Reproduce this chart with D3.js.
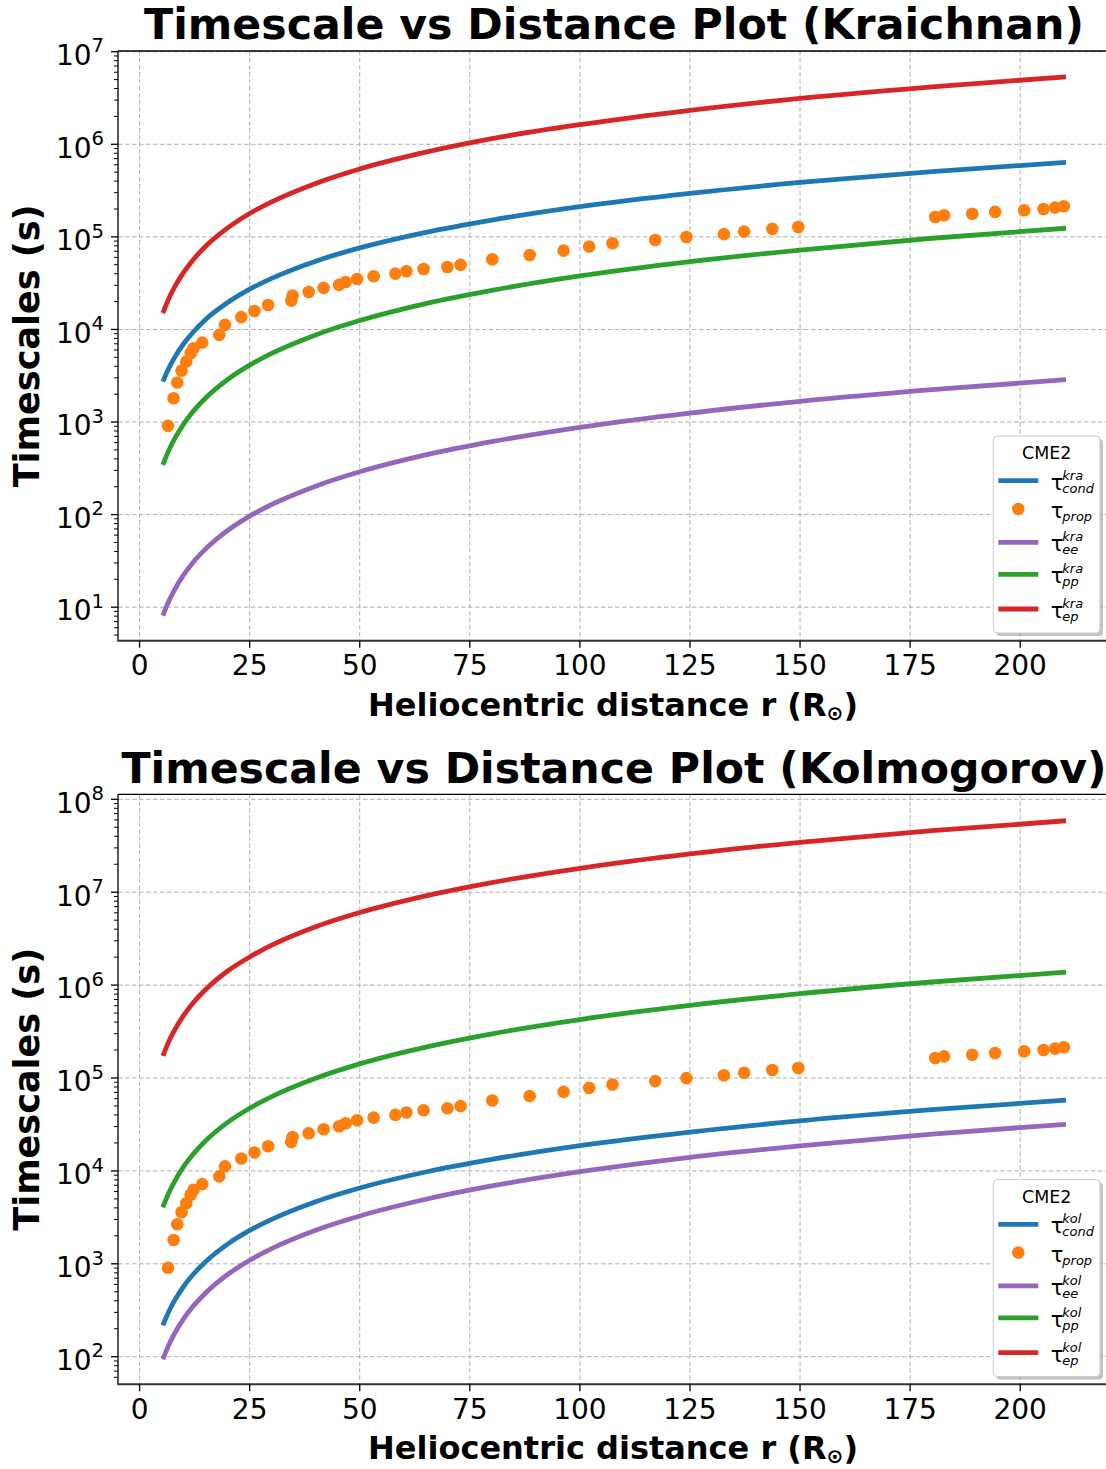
<!DOCTYPE html>
<html>
<head>
<meta charset="utf-8">
<script src="https://cdn.jsdelivr.net/npm/d3@7"></script>
<style>
  body { margin: 0; background: #fff; }
  text { font-family: "DejaVu Sans", sans-serif; }
</style>
</head>
<body>
<svg id="chart" width="1106" height="1469"></svg>
<script>
// Heliocentric distance samples (solar radii) for the model curves
const radius = [5.3, 6, 7, 8, 10, 12, 15, 20, 25, 30, 40, 50, 65, 80, 100, 125, 150, 180, 210.4];

// Kraichnan timescales (s)
const kraCond = [2730, 3280, 4120, 5020, 7000, 9160, 12800, 19500, 27200, 35600, 54600, 76000, 112000, 152000, 212000, 295000, 387000, 507000, 638000];
const kraEE   = [8.11, 9.89, 12.6, 15.6, 22.3, 29.9, 42.6, 67.3, 96.2, 128.5, 203, 290, 441, 614, 877, 1250, 1671, 2234, 2871];
const kraPP   = [344, 420, 537, 665, 951, 1274, 1816, 2877, 4111, 5508, 8730, 12470, 19000, 26400, 37800, 54000, 72100, 96600, 124000];
const kraEP   = [15000, 18300, 23400, 29000, 41300, 55300, 79100, 125000, 179000, 239000, 378000, 541000, 822000, 1150000, 1630000, 2330000, 3130000, 4180000, 5360000];

// Kolmogorov timescales (s)
const kolCond = [218, 263, 332, 406, 570, 752, 1054, 1629, 2286, 3013, 4667, 6546, 9727, 13300, 18700, 26200, 34600, 45600, 57800];
const kolEE   = [93.8, 114, 145.5, 180, 256, 342, 486, 767, 1091, 1459, 2301, 3273, 4955, 6887, 9795, 14000, 18600, 24900, 31800];
const kolPP   = [4055, 4932, 6295, 7780, 11100, 14800, 21100, 33300, 47300, 63100, 99500, 142000, 215000, 299000, 426000, 605000, 809000, 1080000, 1380000];
const kolEP   = [173000, 210000, 269000, 332000, 472000, 631000, 897000, 1420000, 2010000, 2690000, 4250000, 6040000, 9140000, 12700000, 18100000, 25800000, 34400000, 45900000, 58800000];

// CME propagation time at each observed distance
const propR   = [6.45, 7.72, 8.56, 9.54, 10.6, 11.6, 12.27, 14.24, 18.1, 19.4, 23.1, 26.1, 29.2, 34.45, 34.75, 38.4, 41.8, 45.3, 46.8, 49.4, 53.15, 58.1, 60.6, 64.5, 69.9, 72.9, 80.1, 88.6, 96.3, 102.1, 107.4, 117.1, 124.2, 132.7, 137.3, 143.7, 149.6, 180.7, 182.7, 189.1, 194.3, 200.9, 205.3, 207.9, 209.9];
const propTau = [908, 1807, 2670, 3590, 4490, 5530, 6270, 7210, 8730, 11200, 13600, 15800, 18400, 20500, 23200, 25400, 28100, 30300, 32600, 35100, 37500, 40100, 42500, 45000, 47300, 49800, 57300, 63800, 71000, 78400, 85300, 92600, 99800, 107000, 114000, 122000, 128000, 164000, 171000, 178000, 186000, 194000, 200000, 207000, 214000];

const xTicks = [0, 25, 50, 75, 100, 125, 150, 175, 200];

const COLORS = { cond: "#1f77b4", prop: "#ff7f0e", ee: "#9467bd", pp: "#2ca02c", ep: "#d62728" };

const panels = [
  {
    title: "Timescale vs Distance Plot (Kraichnan)",
    tag: "kra",
    top: 51, bottom: 640.7,
    yDomain: [Math.pow(10, 0.638), Math.pow(10, 7.0076)],
    decades: [1, 2, 3, 4, 5, 6, 7],
    series: { cond: kraCond, ee: kraEE, pp: kraPP, ep: kraEP },
    titleY: 39
  },
  {
    title: "Timescale vs Distance Plot (Kolmogorov)",
    tag: "kol",
    top: 794.3, bottom: 1384.3,
    yDomain: [Math.pow(10, 1.703), Math.pow(10, 8.054)],
    decades: [2, 3, 4, 5, 6, 7, 8],
    series: { cond: kolCond, ee: kolEE, pp: kolPP, ep: kolEP },
    titleY: 783
  }
];

const svg = d3.select("#chart");
const left = 118, right = 1110.9;

panels.forEach((p, idx) => {
  const x = d3.scaleLinear().domain([-4.9, 220.6]).range([left, right]);
  const y = d3.scaleLog().domain(p.yDomain).range([p.bottom, p.top]);
  const g = svg.append("g");

  const clipId = "clip" + idx;
  svg.append("clipPath").attr("id", clipId)
    .append("rect").attr("x", left).attr("y", p.top).attr("width", right - left).attr("height", p.bottom - p.top);

  // grid
  const grid = g.append("g").attr("stroke", "#b0b0b0").attr("stroke-width", 1).attr("stroke-dasharray", "4.5,2.5");
  xTicks.forEach(t => grid.append("line").attr("x1", x(t)).attr("x2", x(t)).attr("y1", p.top).attr("y2", p.bottom));
  p.decades.forEach(d => {
    const v = Math.pow(10, d);
    grid.append("line").attr("x1", left).attr("x2", right).attr("y1", y(v)).attr("y2", y(v));
  });

  // model curves
  const line = d3.line().x((d, i) => x(radius[i])).y(d => y(d)).curve(d3.curveMonotoneX);
  const plot = g.append("g").attr("clip-path", `url(#${clipId})`);
  ["cond", "ee", "pp", "ep"].forEach(k => {
    plot.append("path").datum(p.series[k]).attr("d", line)
      .attr("fill", "none").attr("stroke", COLORS[k]).attr("stroke-width", 4.8);
  });
  // propagation points
  plot.selectAll("circle.prop").data(propR).join("circle").attr("class", "prop")
    .attr("cx", d => x(d)).attr("cy", (d, i) => y(propTau[i])).attr("r", 6.3)
    .attr("fill", COLORS.prop);

  // spines
  const sp = g.append("g").attr("stroke", "#000").attr("stroke-width", 1.3).attr("fill", "none");
  sp.append("line").attr("x1", left).attr("x2", left).attr("y1", p.top).attr("y2", p.bottom);
  sp.append("line").attr("x1", left).attr("x2", right).attr("y1", p.top).attr("y2", p.top);
  sp.append("line").attr("x1", left - 0.7).attr("x2", right).attr("y1", p.bottom).attr("y2", p.bottom).attr("stroke", "#333").attr("stroke-width", 2);

  // x ticks
  const xt = g.append("g");
  xTicks.forEach(t => {
    xt.append("line").attr("x1", x(t)).attr("x2", x(t)).attr("y1", p.bottom).attr("y2", p.bottom + 7).attr("stroke", "#000").attr("stroke-width", 1.3);
    xt.append("text").attr("x", x(t)).attr("y", p.bottom + 34.5).attr("text-anchor", "middle")
      .attr("font-size", 28).text(t);
  });

  // y ticks (major + minor)
  const yt = g.append("g");
  const [lo, hi] = p.yDomain;
  for (let d = Math.floor(Math.log10(lo)); d <= Math.ceil(Math.log10(hi)); d++) {
    for (let m = 1; m <= 9; m++) {
      const v = m * Math.pow(10, d);
      if (v < lo || v > hi) continue;
      const major = m === 1;
      yt.append("line").attr("x1", left).attr("x2", left - (major ? 7 : 4))
        .attr("y1", y(v)).attr("y2", y(v)).attr("stroke", "#000").attr("stroke-width", major ? 1.3 : 1);
    }
  }
  p.decades.forEach(d => {
    const t = yt.append("text").attr("x", left - 14).attr("y", y(Math.pow(10, d)) + 13.3).attr("text-anchor", "end").attr("font-size", 28);
    t.append("tspan").text("10");
    t.append("tspan").attr("dy", -12.6).attr("font-size", 19.6).text(d);
  });

  // titles and axis labels
  svg.append("text").attr("x", 614).attr("y", p.titleY).attr("text-anchor", "middle")
    .attr("font-size", 42.7).attr("font-weight", "bold").text(p.title);

  const xl = svg.append("text").attr("x", 613).attr("y", p.bottom + 75).attr("text-anchor", "middle")
    .attr("font-size", 32).attr("font-weight", "bold");
  xl.append("tspan").text("Heliocentric distance r (R");
  xl.append("tspan").attr("font-size", 20).attr("dy", 4).text("⊙");
  xl.append("tspan").attr("dy", -4).text(")");

  svg.append("text").attr("transform", `translate(39,${(p.top + p.bottom) / 2}) rotate(-90)`)
    .attr("text-anchor", "middle").attr("font-size", 35).attr("font-weight", "bold").text("Timescales (s)");

  // legend
  const lx = 993.3, lw = 106.7, lh = 197;
  const ly = p.bottom - 7.7 - lh;
  const lg = svg.append("g");
  lg.append("rect").attr("x", lx + 3).attr("y", ly + 3).attr("width", lw).attr("height", lh).attr("rx", 4)
    .attr("fill", "#888").attr("opacity", 0.5);
  lg.append("rect").attr("x", lx).attr("y", ly).attr("width", lw).attr("height", lh).attr("rx", 4)
    .attr("fill", "#fff").attr("stroke", "#ccc").attr("stroke-width", 1);
  lg.append("text").attr("x", lx + 53.4).attr("y", ly + 23).attr("text-anchor", "middle").attr("font-size", 17.5).text("CME2");

  const entries = [
    { k: "cond", sup: p.tag, sub: "cond", type: "line" },
    { k: "prop", sup: "", sub: "prop", type: "dot" },
    { k: "ee", sup: p.tag, sub: "ee", type: "line" },
    { k: "pp", sup: p.tag, sub: "pp", type: "line" },
    { k: "ep", sup: p.tag, sub: "ep", type: "line" }
  ];
  const rowY = [44.7, 73, 106.3, 138.3, 173];
  entries.forEach((e, i) => {
    const cy = ly + rowY[i];
    if (e.type === "line") {
      lg.append("line").attr("x1", lx + 5).attr("x2", lx + 45).attr("y1", cy).attr("y2", cy)
        .attr("stroke", COLORS[e.k]).attr("stroke-width", 4.8);
    } else {
      lg.append("circle").attr("cx", lx + 25).attr("cy", cy).attr("r", 6.3).attr("fill", COLORS[e.k]);
    }
    lg.append("text").attr("x", lx + 57.5).attr("y", cy + 9).attr("font-size", 21).text("τ");
    if (e.sup) {
      lg.append("text").attr("x", lx + 69).attr("y", cy - 1).attr("font-size", 13).attr("font-style", "italic").text(e.sup);
    }
    lg.append("text").attr("x", lx + 69).attr("y", cy + 12).attr("font-size", 13).attr("font-style", "italic").text(e.sub);
  });
});
</script>
</body>
</html>
